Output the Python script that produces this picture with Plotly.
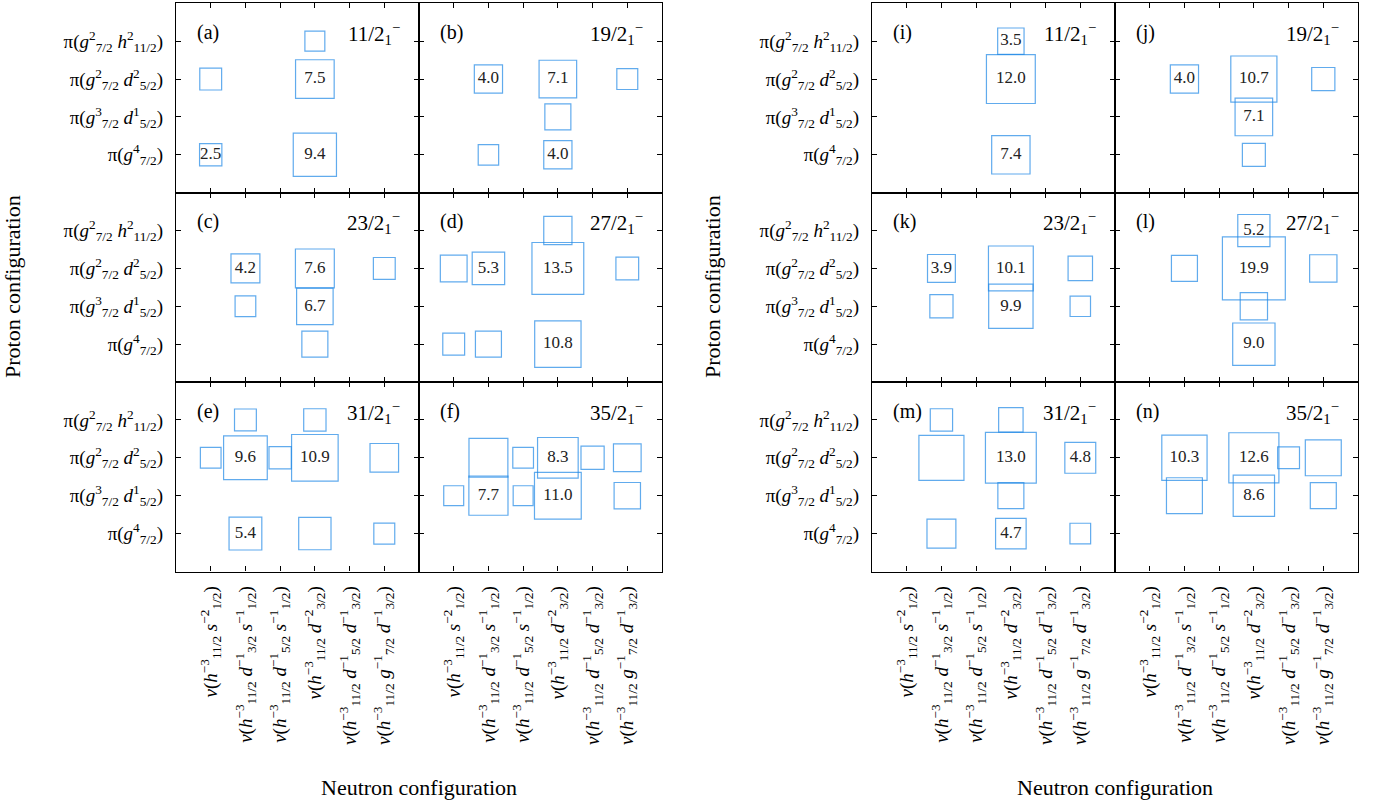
import math
import plotly.graph_objects as go

W, H = 1383, 802

# ---------------- data ----------------
proton_cfg = [
    "π(<i>g</i><sup>4</sup><sub>7/2</sub>)",
    "π(<i>g</i><sup>3</sup><sub>7/2</sub> <i>d</i><sup>1</sup><sub>5/2</sub>)",
    "π(<i>g</i><sup>2</sup><sub>7/2</sub> <i>d</i><sup>2</sup><sub>5/2</sub>)",
    "π(<i>g</i><sup>2</sup><sub>7/2</sub> <i>h</i><sup>2</sup><sub>11/2</sub>)",
]
neutron_cfg = [
    "<i>ν</i>(<i>h</i><sup>−3</sup><sub>11/2</sub> <i>s</i><sup>−2</sup><sub>1/2</sub>)",
    "<i>ν</i>(<i>h</i><sup>−3</sup><sub>11/2</sub> <i>d</i><sup>−1</sup><sub>3/2</sub> <i>s</i><sup>−1</sup><sub>1/2</sub>)",
    "<i>ν</i>(<i>h</i><sup>−3</sup><sub>11/2</sub> <i>d</i><sup>−1</sup><sub>5/2</sub> <i>s</i><sup>−1</sup><sub>1/2</sub>)",
    "<i>ν</i>(<i>h</i><sup>−3</sup><sub>11/2</sub> <i>d</i><sup>−2</sup><sub>3/2</sub>)",
    "<i>ν</i>(<i>h</i><sup>−3</sup><sub>11/2</sub> <i>d</i><sup>−1</sup><sub>5/2</sub> <i>d</i><sup>−1</sup><sub>3/2</sub>)",
    "<i>ν</i>(<i>h</i><sup>−3</sup><sub>11/2</sub> <i>g</i><sup>−1</sup><sub>7/2</sub> <i>d</i><sup>−1</sup><sub>3/2</sub>)",
]
panel_letters = ["(a)", "(b)", "(c)", "(d)", "(e)", "(f)",
                 "(i)", "(j)", "(k)", "(l)", "(m)", "(n)"]
spin_states = ["11/2", "19/2", "23/2", "27/2", "31/2", "35/2"]

# (neutron index, proton index, percentage, label shown)
panel_a = [(1, 3, 2.4, False), (1, 1, 2.5, True), (4, 4, 2.0, False),
           (4, 3, 7.5, True), (4, 1, 9.4, True)]
panel_b = [(2, 3, 4.0, True), (4, 3, 7.1, True), (6, 3, 2.2, False),
           (4, 2, 3.4, False), (2, 1, 2.1, False), (4, 1, 4.0, True)]
panel_c = [(2, 3, 4.2, True), (4, 3, 7.6, True), (6, 3, 2.4, False),
           (2, 2, 2.15, False), (4, 2, 6.7, True), (4, 1, 3.4, False)]
panel_d = [(4, 4, 4.0, False), (1, 3, 3.6, False), (2, 3, 5.3, True),
           (4, 3, 13.5, True), (6, 3, 2.6, False), (1, 1, 2.4, False),
           (2, 1, 3.4, False), (4, 1, 10.8, True)]
panel_e = [(2, 4, 2.4, False), (4, 4, 2.5, False), (1, 3, 2.15, False),
           (2, 3, 9.6, True), (3, 3, 2.5, False), (4, 3, 10.9, True),
           (6, 3, 4.1, False), (2, 1, 5.4, True), (4, 1, 5.25, False),
           (6, 1, 2.2, False)]
panel_f = [(2, 3, 7.6, False), (3, 3, 2.15, False), (4, 3, 8.3, True),
           (5, 3, 2.7, False), (6, 3, 3.85, False), (1, 2, 2.0, False),
           (2, 2, 7.7, True), (3, 2, 2.0, False), (4, 2, 11.0, True),
           (6, 2, 3.5, False)]
panel_i = [(4, 4, 3.5, True), (4, 3, 12.0, True), (4, 1, 7.4, True)]
panel_j = [(2, 3, 4.0, True), (4, 3, 10.7, True), (6, 3, 2.7, False),
           (4, 2, 7.1, True), (4, 1, 2.65, False)]
panel_k = [(2, 3, 3.9, True), (4, 3, 10.1, True), (6, 3, 3.0, False),
           (2, 2, 2.7, False), (4, 2, 9.9, True), (6, 2, 2.1, False)]
panel_l = [(4, 4, 5.2, True), (2, 3, 3.4, False), (4, 3, 19.9, True),
           (6, 3, 3.75, False), (4, 2, 3.75, False), (4, 1, 9.0, True)]
panel_m = [(2, 4, 2.5, False), (4, 4, 3.0, False), (2, 3, 10.2, False),
           (4, 3, 13.0, True), (6, 3, 4.8, True), (4, 2, 3.4, False),
           (2, 1, 4.2, False), (4, 1, 4.7, True), (6, 1, 2.15, False)]
panel_n = [(2, 3, 10.3, True), (2, 2, 6.5, False), (4, 3, 12.6, True),
           (5, 3, 2.4, False), (6, 3, 6.5, False), (4, 2, 8.6, True),
           (6, 2, 3.4, False)]

panels = [panel_a, panel_b, panel_c, panel_d, panel_e, panel_f,
          panel_i, panel_j, panel_k, panel_l, panel_m, panel_n]

# ---------------- layout geometry (pixels) ----------------
col_px = [[(176, 419), (419, 662)], [(872, 1115), (1115, 1358)]]
row_px = [(3.3, 192.7), (192.7, 382.0), (382.0, 571.5)]
PX_PER_SQRT = 14.1
BLUE = "#1E88E5"
FONT = "Liberation Serif"

fig = go.Figure()
layout = dict(
    width=W, height=H,
    margin=dict(l=0, r=0, t=0, b=0),
    paper_bgcolor="white", plot_bgcolor="white",
    showlegend=False,
    font=dict(family=FONT, color="black", size=19),
)
annotations = []

for k, data in enumerate(panels):
    side, j = divmod(k, 6)
    r, c = divmod(j, 2)
    x0, x1 = col_px[side][c]
    ytop, ybot = row_px[r]
    xa = "xaxis" if k == 0 else f"xaxis{k+1}"
    ya = "yaxis" if k == 0 else f"yaxis{k+1}"
    xs = "x" if k == 0 else f"x{k+1}"
    ys = "y" if k == 0 else f"y{k+1}"

    layout[xa] = dict(
        domain=[x0 / W, x1 / W], anchor=ys, range=[0, 7],
        tickvals=[1, 2, 3, 4, 5, 6], ticktext=neutron_cfg,
        showticklabels=(r == 2), tickangle=-90,
        ticks="inside", ticklen=5, tickcolor="black", tickwidth=1,
        showline=True, linecolor="black", linewidth=1.3, mirror="ticks",
        showgrid=False, zeroline=False, fixedrange=True,
        tickfont=dict(family=FONT, size=19), ticklabelstandoff=6,
    )
    layout[ya] = dict(
        domain=[1 - ybot / H, 1 - ytop / H], anchor=xs, range=[0, 5],
        tickvals=[1, 2, 3, 4], ticktext=proton_cfg,
        showticklabels=(c == 0),
        ticks="inside", ticklen=5, tickcolor="black", tickwidth=1,
        showline=True, linecolor="black", linewidth=1.3, mirror="ticks",
        showgrid=False, zeroline=False, fixedrange=True,
        tickfont=dict(family=FONT, size=19), ticklabelstandoff=8,
    )

    xv = [d[0] for d in data]
    yv = [d[1] for d in data]
    vv = [d[2] for d in data]
    labels = [f"{d[2]:.1f}" if d[3] else "" for d in data]
    fig.add_trace(go.Scatter(
        x=xv, y=yv, xaxis=xs, yaxis=ys, mode="markers+text",
        text=labels, textposition="middle center",
        textfont=dict(family=FONT, size=17, color="#222"),
        marker=dict(symbol="square-open", color=BLUE,
                    size=[PX_PER_SQRT * math.sqrt(v) for v in vv],
                    line=dict(width=1.2, color=BLUE)),
        hoverinfo="skip", cliponaxis=False,
    ))

    annotations.append(dict(
        text=panel_letters[k], xref=f"{xs} domain", yref=f"{ys} domain",
        x=0, y=1, xanchor="left", yanchor="middle", xshift=19, yshift=-29,
        showarrow=False, font=dict(family=FONT, size=20),
    ))
    annotations.append(dict(
        text=f"{spin_states[j]}<sub>1</sub><sup>−</sup>",
        xref=f"{xs} domain", yref=f"{ys} domain",
        x=1, y=1, xanchor="right", yanchor="middle", xshift=-17, yshift=-30,
        showarrow=False, font=dict(family=FONT, size=21),
    ))

for cx, px in [(419, 12), (1115, 712)]:
    annotations.append(dict(
        text="Proton configuration", xref="paper", yref="paper",
        x=px / W, y=1 - 287 / H, textangle=-90, showarrow=False,
        xanchor="center", yanchor="middle", font=dict(family=FONT, size=22),
    ))
    annotations.append(dict(
        text="Neutron configuration", xref="paper", yref="paper",
        x=cx / W, y=1 - 787 / H, showarrow=False,
        xanchor="center", yanchor="middle", font=dict(family=FONT, size=22),
    ))

layout["annotations"] = annotations
fig.update_layout(**layout)
fig.write_html("out.html")
